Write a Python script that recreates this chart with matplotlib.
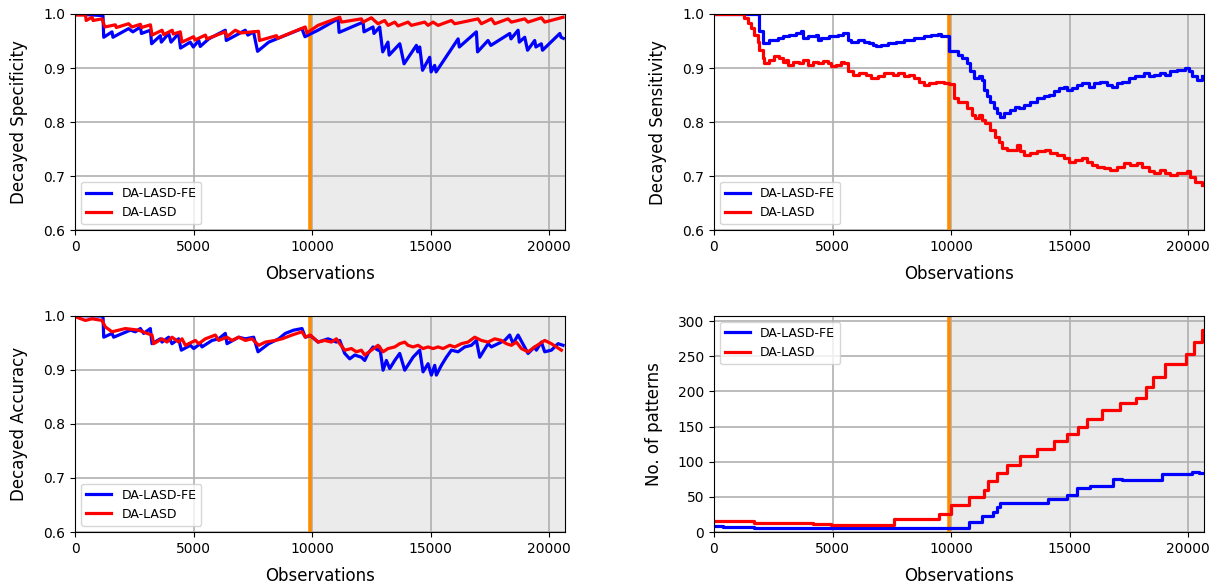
import matplotlib
matplotlib.use('Agg')
import matplotlib.pyplot as plt

DRIFT_AT = 9920
X_MAX = 20670

# decayed specificity, (observation, value)
spec_fe = [(0, 1.0), (1180, 0.997), (1210, 0.957), (1560, 0.967), (1600, 0.957), (2260, 0.973),
           (2440, 0.967), (2760, 0.976), (2800, 0.964), (3180, 0.970), (3230, 0.945), (3600, 0.960),
           (3640, 0.948), (3950, 0.964), (4050, 0.948), (4370, 0.964), (4450, 0.937), (4860, 0.948),
           (4990, 0.939), (5220, 0.951), (5280, 0.940), (5640, 0.954), (6340, 0.970), (6380, 0.951),
           (7180, 0.970), (7290, 0.961), (7530, 0.967), (7700, 0.931), (8170, 0.948), (9570, 0.973),
           (9700, 0.958), (9920, 0.963), (10250, 0.970), (11100, 0.991), (11140, 0.966), (12150, 0.985),
           (12190, 0.967), (12570, 0.976), (12610, 0.964), (12850, 0.976), (12980, 0.930), (13200, 0.948),
           (13250, 0.924), (13700, 0.945), (13880, 0.908), (14400, 0.942), (14460, 0.930), (14540, 0.939),
           (14660, 0.896), (14960, 0.920), (15020, 0.893), (15170, 0.905), (15230, 0.893), (16160, 0.954),
           (16210, 0.939), (16930, 0.967), (16980, 0.930), (17420, 0.951), (17540, 0.942), (18340, 0.964),
           (18390, 0.954), (18690, 0.970), (18740, 0.948), (18970, 0.957), (19090, 0.933), (19390, 0.951),
           (19440, 0.939), (19670, 0.945), (19720, 0.933), (20450, 0.964), (20500, 0.957), (20600, 0.955)]
spec_lasd = [(0, 0.998), (440, 0.998), (470, 0.988), (720, 0.994), (760, 0.988), (1140, 0.991),
             (1260, 0.976), (1700, 0.980), (1740, 0.975), (2260, 0.982), (2400, 0.976), (2760, 0.981),
             (2800, 0.975), (3180, 0.980), (3250, 0.961), (3670, 0.970), (3740, 0.962), (4100, 0.970),
             (4140, 0.963), (4440, 0.967), (4510, 0.948), (5000, 0.958), (5060, 0.952), (5500, 0.961),
             (5560, 0.954), (6340, 0.967), (6410, 0.958), (6760, 0.970), (7000, 0.965), (7740, 0.968),
             (7780, 0.951), (8500, 0.960), (8540, 0.955), (9710, 0.976), (9780, 0.965), (10252, 0.979),
             (11166, 0.994), (11236, 0.985), (12080, 0.991), (12150, 0.985), (12500, 0.993), (12780, 0.982),
             (13060, 0.988), (13205, 0.979), (13486, 0.985), (13626, 0.978), (14048, 0.985), (14189, 0.979),
             (14750, 0.985), (14892, 0.979), (15103, 0.985), (15314, 0.979), (15876, 0.988), (16017, 0.982),
             (17000, 0.991), (17141, 0.982), (17563, 0.991), (17704, 0.982), (18266, 0.991), (18407, 0.985),
             (18969, 0.991), (19110, 0.985), (19672, 0.993), (19813, 0.985), (20586, 0.994)]

# decayed sensitivity (stepped)
sens_fe = [(0, 1.0), (1910, 0.968), (2050, 0.946), (2330, 0.952), (2690, 0.956), (2900, 0.959),
           (3180, 0.962), (3460, 0.965), (3670, 0.969), (3740, 0.956), (3950, 0.959), (4300, 0.962),
           (4370, 0.952), (4510, 0.956), (4860, 0.959), (5220, 0.962), (5430, 0.965), (5640, 0.952),
           (5780, 0.949), (6060, 0.952), (6340, 0.949), (6550, 0.946), (6690, 0.943), (6830, 0.940),
           (7040, 0.943), (7330, 0.946), (7680, 0.949), (8030, 0.952), (8450, 0.956), (8870, 0.959),
           (9150, 0.962), (9430, 0.963), (9570, 0.960), (9930, 0.931), (10280, 0.925), (10463, 0.919),
           (10674, 0.909), (10814, 0.894), (10955, 0.881), (11166, 0.885), (11307, 0.878), (11377, 0.860),
           (11517, 0.848), (11658, 0.838), (11799, 0.826), (11939, 0.817), (12052, 0.810), (12220, 0.817),
           (12502, 0.823), (12713, 0.829), (12853, 0.826), (13064, 0.832), (13345, 0.838), (13626, 0.844),
           (13908, 0.848), (14119, 0.851), (14329, 0.857), (14540, 0.863), (14751, 0.866), (14892, 0.860),
           (15103, 0.863), (15314, 0.869), (15525, 0.872), (15806, 0.866), (16017, 0.872), (16298, 0.875),
           (16579, 0.869), (16790, 0.866), (17001, 0.872), (17212, 0.875), (17493, 0.881), (17774, 0.885),
           (18126, 0.891), (18337, 0.885), (18547, 0.888), (18829, 0.891), (19040, 0.888), (19250, 0.894),
           (19532, 0.897), (19883, 0.900), (20024, 0.894), (20165, 0.885), (20375, 0.878), (20586, 0.885)]
sens_lasd = [(0, 1.0), (1279, 0.993), (1420, 0.983), (1560, 0.974), (1701, 0.962), (1841, 0.949),
             (1912, 0.934), (2052, 0.919), (2123, 0.909), (2334, 0.915), (2545, 0.922), (2755, 0.919),
             (2896, 0.912), (3037, 0.915), (3107, 0.906), (3318, 0.912), (3599, 0.909), (3740, 0.915),
             (3950, 0.905), (4161, 0.912), (4372, 0.909), (4583, 0.914), (4794, 0.909), (4935, 0.903),
             (5146, 0.906), (5356, 0.912), (5497, 0.909), (5638, 0.894), (5849, 0.888), (6130, 0.891),
             (6411, 0.888), (6622, 0.881), (6903, 0.885), (7184, 0.891), (7536, 0.888), (7747, 0.891),
             (8028, 0.885), (8239, 0.888), (8450, 0.881), (8660, 0.875), (8871, 0.869), (9082, 0.872),
             (9364, 0.875), (9715, 0.872), (9926, 0.870), (10137, 0.844), (10277, 0.838), (10674, 0.826),
             (10885, 0.814), (11025, 0.807), (11166, 0.814), (11307, 0.804), (11447, 0.798), (11658, 0.786),
             (11869, 0.773), (12010, 0.764), (12150, 0.752), (12361, 0.749), (12783, 0.758), (12923, 0.746),
             (13064, 0.740), (13345, 0.743), (13626, 0.746), (13978, 0.749), (14189, 0.743), (14470, 0.740),
             (14751, 0.733), (14962, 0.727), (15243, 0.730), (15525, 0.733), (15736, 0.727), (15946, 0.721),
             (16157, 0.718), (16438, 0.715), (16720, 0.712), (17001, 0.718), (17282, 0.724), (17563, 0.721),
             (17844, 0.724), (18055, 0.718), (18337, 0.709), (18547, 0.706), (18829, 0.712), (19040, 0.706),
             (19250, 0.702), (19532, 0.706), (19954, 0.709), (20094, 0.699), (20305, 0.690), (20586, 0.684)]

# decayed accuracy
acc_fe = [(0, 1.0), (1180, 0.999), (1210, 0.960), (1560, 0.967), (1630, 0.960), (2334, 0.973),
          (2545, 0.970), (2755, 0.976), (2896, 0.967), (3177, 0.976), (3247, 0.948), (3599, 0.957),
          (3669, 0.951), (3950, 0.960), (4091, 0.948), (4372, 0.957), (4485, 0.936), (4864, 0.945),
          (5005, 0.939), (5286, 0.948), (5356, 0.942), (5778, 0.954), (6059, 0.957), (6340, 0.967),
          (6411, 0.948), (6903, 0.960), (7184, 0.957), (7536, 0.960), (7719, 0.933), (8169, 0.948),
          (8591, 0.957), (8871, 0.967), (9223, 0.973), (9574, 0.976), (9715, 0.960), (9926, 0.963),
          (10252, 0.951), (10674, 0.957), (11025, 0.951), (11166, 0.954), (11377, 0.930), (11588, 0.920),
          (11799, 0.927), (12080, 0.923), (12220, 0.917), (12361, 0.930), (12572, 0.942), (12783, 0.936),
          (12853, 0.942), (12994, 0.899), (13134, 0.917), (13275, 0.902), (13486, 0.917), (13697, 0.930),
          (13908, 0.899), (14259, 0.923), (14540, 0.936), (14681, 0.896), (14892, 0.911), (15032, 0.890),
          (15173, 0.908), (15243, 0.890), (15454, 0.908), (15665, 0.923), (15876, 0.936), (16157, 0.933),
          (16438, 0.942), (16720, 0.945), (16931, 0.954), (17071, 0.923), (17423, 0.948), (17563, 0.942),
          (18126, 0.954), (18337, 0.964), (18477, 0.948), (18688, 0.964), (19110, 0.930), (19391, 0.942),
          (19461, 0.936), (19672, 0.951), (19813, 0.933), (20094, 0.936), (20375, 0.948), (20586, 0.945)]
acc_lasd = [(0, 0.998), (435, 0.991), (717, 0.994), (1138, 0.991), (1279, 0.979), (1560, 0.970),
            (2123, 0.976), (2685, 0.973), (3037, 0.967), (3247, 0.964), (3318, 0.948), (3669, 0.957),
            (3880, 0.951), (4091, 0.960), (4372, 0.951), (4513, 0.957), (4653, 0.945), (5075, 0.954),
            (5216, 0.948), (5497, 0.957), (5919, 0.964), (6059, 0.954), (6411, 0.960), (6622, 0.954),
            (6903, 0.960), (7184, 0.954), (7465, 0.957), (7747, 0.945), (8028, 0.951), (8450, 0.954),
            (8731, 0.957), (9153, 0.964), (9574, 0.970), (9715, 0.960), (9926, 0.964), (10252, 0.951),
            (10533, 0.954), (10814, 0.951), (11025, 0.957), (11166, 0.948), (11377, 0.936), (11658, 0.939),
            (11869, 0.933), (12080, 0.936), (12220, 0.927), (12502, 0.936), (12783, 0.945), (12994, 0.933),
            (13205, 0.939), (13486, 0.942), (13697, 0.948), (13908, 0.951), (14048, 0.945), (14259, 0.942),
            (14470, 0.945), (14681, 0.939), (14892, 0.942), (15103, 0.939), (15314, 0.942), (15525, 0.939),
            (15806, 0.945), (16017, 0.942), (16298, 0.948), (16579, 0.951), (16860, 0.960), (17141, 0.954),
            (17423, 0.951), (17704, 0.957), (17985, 0.954), (18196, 0.948), (18407, 0.945), (18618, 0.951),
            (18829, 0.939), (19110, 0.933), (19391, 0.942), (19602, 0.948), (19813, 0.954), (20094, 0.948),
            (20305, 0.942), (20516, 0.936)]

# number of patterns (stepped)
pat_fe = [(0, 8), (400, 7), (1700, 6), (10740, 14), (11290, 23), (11780, 28), (11930, 36),
          (12070, 42), (12900, 41), (14100, 47), (14900, 53), (15300, 62), (15870, 66), (16820, 75),
          (17200, 74), (18900, 83), (20160, 86), (20450, 84), (20670, 84)]
pat_lasd = [(0, 15), (1700, 13), (4160, 11), (4935, 10), (7600, 18), (9500, 26), (9990, 39),
            (10740, 50), (11370, 60), (11540, 72), (11940, 84), (12340, 96), (12920, 108), (13620, 118),
            (14330, 129), (14900, 139), (15340, 149), (15750, 161), (16370, 174), (17140, 183),
            (17800, 191), (18240, 206), (18500, 220), (19040, 239), (19900, 253), (20250, 270),
            (20600, 287), (20670, 287)]


def unzip(points):
    xs, ys = zip(*points)
    return list(xs), list(ys)


def draw_panel(ax, fe, lasd, ylabel, legend_loc, steps=False):
    ax.axvspan(DRIFT_AT, X_MAX, color='lightgrey', alpha=0.45, lw=0)
    ax.axvline(DRIFT_AT, color='darkorange', lw=2.6)
    ds = 'steps-post' if steps else 'default'
    x, y = unzip(fe)
    ax.plot(x, y, color='blue', lw=2.3, drawstyle=ds, label='DA-LASD-FE')
    x, y = unzip(lasd)
    ax.plot(x, y, color='red', lw=2.3, drawstyle=ds, label='DA-LASD')
    ax.set_xlim(0, X_MAX)
    ax.set_xticks([0, 5000, 10000, 15000, 20000])
    ax.set_xlabel('Observations', fontsize=12, labelpad=8)
    ax.set_ylabel(ylabel, fontsize=12, labelpad=11)
    ax.tick_params(labelsize=10)
    ax.grid(True, color='#b0b0b0', lw=1.2)
    ax.legend(loc=legend_loc, fontsize=9)


fig, axes = plt.subplots(2, 2, figsize=(12.18, 5.88), dpi=100)
fig.subplots_adjust(left=0.0616, right=0.9885, bottom=0.0952, top=0.9762, wspace=0.304, hspace=0.393)

draw_panel(axes[0, 0], spec_fe, spec_lasd, 'Decayed Specificity', 'lower left')
draw_panel(axes[0, 1], sens_fe, sens_lasd, 'Decayed Sensitivity', 'lower left', steps=True)
draw_panel(axes[1, 0], acc_fe, acc_lasd, 'Decayed Accuracy', 'lower left')
draw_panel(axes[1, 1], pat_fe, pat_lasd, 'No. of patterns', 'upper left', steps=True)

for ax in [axes[0, 0], axes[0, 1], axes[1, 0]]:
    ax.set_ylim(0.6, 1.0)
    ax.set_yticks([0.6, 0.7, 0.8, 0.9, 1.0])
axes[1, 1].set_ylim(0, 308)
axes[1, 1].set_yticks([0, 50, 100, 150, 200, 250, 300])

fig.savefig('out.png', dpi=100)
